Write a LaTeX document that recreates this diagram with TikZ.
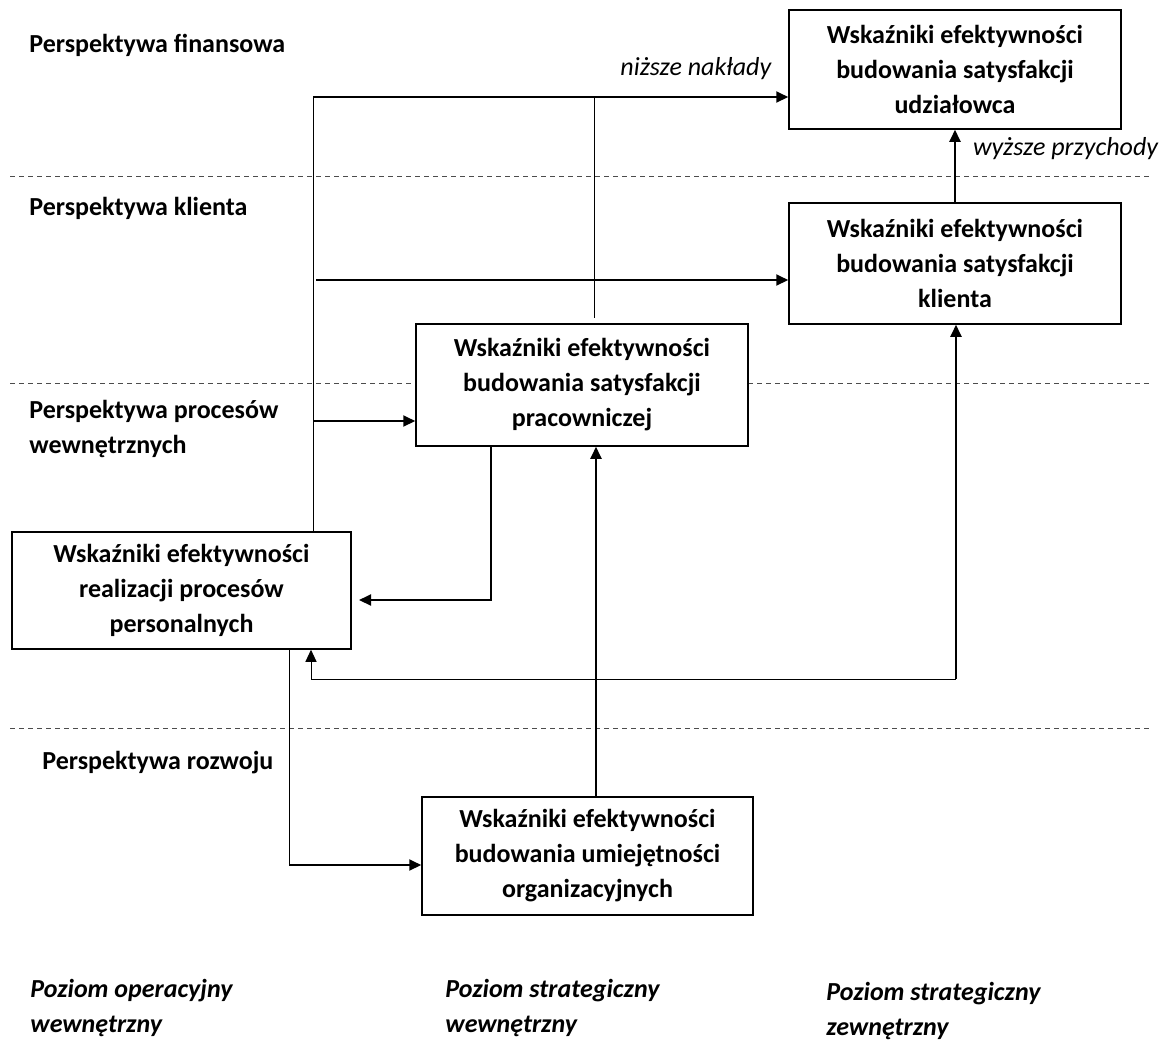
\documentclass[tikz,border=0pt]{standalone}
\usepackage{fontspec}
\setmainfont{Carlito}
\usetikzlibrary{arrows.meta,positioning}

\begin{document}
\begin{tikzpicture}[x=0.5pt,y=-0.5pt,
    every node/.style={inner sep=0,font=\fontsize{13}{17.5}\selectfont},
    box/.style={draw,fill=white,line width=.75pt,align=center,font=\fontsize{13}{17.5}\selectfont\bfseries},
    persp/.style={anchor=west,align=left,font=\fontsize{13}{17.5}\selectfont\bfseries},
    level/.style={anchor=west,align=left,font=\fontsize{13}{17.5}\selectfont\bfseries\itshape},
    thick line/.style={line width=1pt},
    thin line/.style={line width=.5pt},
    tip/.style={-{Triangle[length=6pt,width=5.5pt]}}]
\useasboundingbox (0,0) rectangle (1164,1041);

% separators between perspectives
\foreach \y in {176,383,728}
  \draw[thin line,dashed,dash pattern=on 2.5pt off 2pt,black!70] (10,\y) -- (1150,\y);

% perspectives
\node[persp] (fin) at (29,45) {Perspektywa finansowa};
\node[persp] (kli) at (29,208) {Perspektywa klienta};
\node[persp] (pro) at (29,429) {Perspektywa procesów\\wewnętrznych};
\node[persp] (roz) at (42,763) {Perspektywa rozwoju};

% boxes
\node[box,minimum width=166pt,minimum height=59.5pt] (udzial) at (955,69.5)
  {Wskaźniki efektywności\\budowania satysfakcji\\udziałowca};
\node[box,minimum width=166pt,minimum height=60.5pt] (klient) at (955,263.5)
  {Wskaźniki efektywności\\budowania satysfakcji\\klienta};
\node[box,minimum width=166pt,minimum height=61pt] (prac) at (582,385)
  {Wskaźniki efektywności\\budowania satysfakcji\\pracowniczej};
\node[box,minimum width=169.5pt,minimum height=58.5pt] (perso) at (181.5,590.5)
  {Wskaźniki efektywności\\realizacji procesów\\personalnych};
\node[box,minimum width=165.5pt,minimum height=59pt] (umiej) at (587.5,856)
  {Wskaźniki efektywności\\budowania umiejętności\\organizacyjnych};

% levels
\node[level] (oper) at (30,1008) {Poziom operacyjny\\wewnętrzny};
\node[level] (strw) at (445,1008) {Poziom strategiczny\\wewnętrzny};
\node[level] (strz) at (826,1011) {Poziom strategiczny\\zewnętrzny};

% helper points
\coordinate (trunk) at (313,97);
\coordinate (split) at (594,97);
\coordinate (splitend) at (594,318);
\coordinate (kl) at (316,280);
\coordinate (pr) at (313,421);
\coordinate (ret) at (491,600);
\coordinate (retend) at (359,600);
\coordinate (dn) at (289,865);
\coordinate (lo) at (311,679);
\coordinate (lo2) at (956,679);

% connectors
\draw[thin line] (trunk) -- (trunk |- perso.north);
\draw[thick line,tip] (trunk) -- (trunk -| udzial.west)
  node[pos=1,anchor=south east,yshift=8pt,xshift=-8pt,font=\fontsize{13}{17.5}\selectfont\itshape] (nizsze) {niższe nakłady};
\draw[thin line] (split) -- (splitend);
\draw[thick line,tip] (kl) -- (kl -| klient.west);
\draw[thick line,tip] (pr) -- (pr -| prac.west);
\draw[thick line,tip] (klient.north) -- (udzial.south)
  node[pos=.74,anchor=west,xshift=8.5pt,font=\fontsize{13}{17.5}\selectfont\itshape] (wyzsze) {wyższe przychody};
\draw[thick line,tip] (ret |- prac.south) -- (ret) -- (retend);
\draw[thin line] (dn |- perso.south) -- (dn);
\draw[thick line,tip] (dn) -- (dn -| umiej.west);
\draw[thick line,tip] ([xshift=4.25pt]umiej.north) -- ([xshift=4.25pt]umiej.north |- prac.south);
\draw[thin line,tip] (lo2) -- (lo) -- (lo |- perso.south);
\draw[thick line,tip] (lo2) -- (lo2 |- klient.south);
\end{tikzpicture}
\end{document}
